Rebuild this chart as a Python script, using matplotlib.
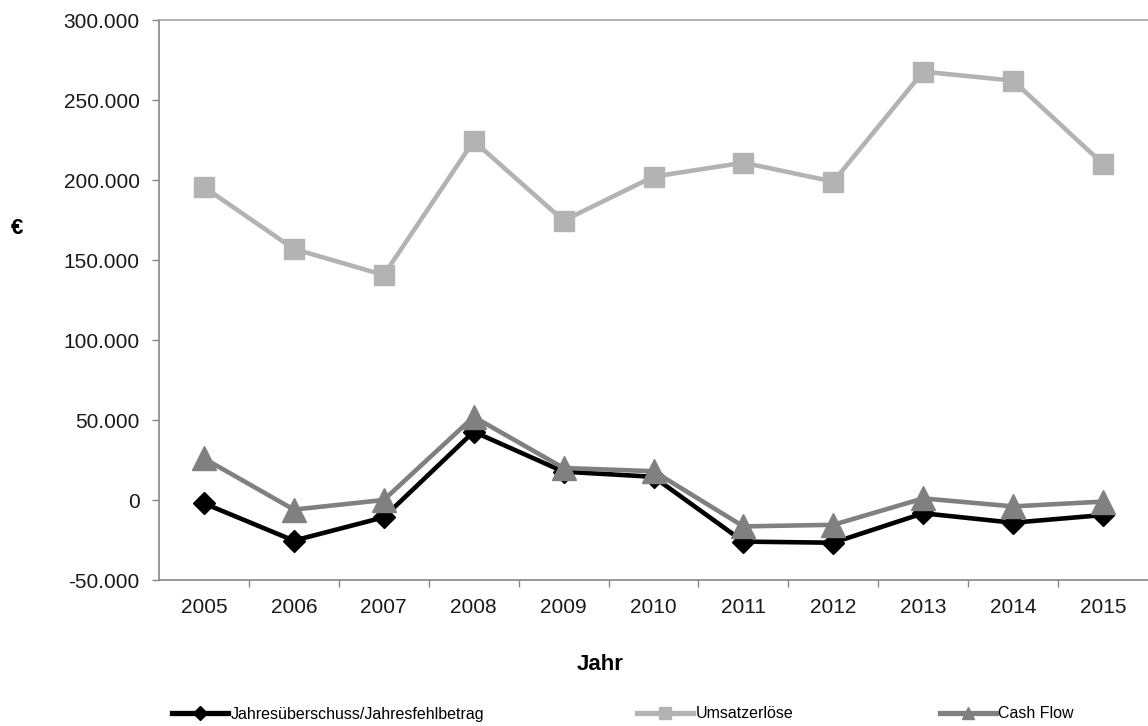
import matplotlib
matplotlib.use("Agg")
import matplotlib.pyplot as plt
from matplotlib.ticker import FixedLocator, FuncFormatter
from matplotlib.lines import Line2D

plt.rcParams['font.family'] = ['Liberation Sans', 'DejaVu Sans']

years = ['2005', '2006', '2007', '2008', '2009', '2010', '2011', '2012', '2013', '2014', '2015']
jahresergebnis = [-2100, -25400, -10800, 42700, 17700, 14500, -26000, -26700, -8300, -14200, -9400]
umsatzerloese = [195600, 156900, 140600, 224400, 174600, 202100, 210800, 199000, 267700, 262100, 210000]
cash_flow = [26000, -6000, 0, 52000, 20000, 18000, -16500, -15500, 1000, -4000, -1000]

series_labels = ['Jahresüberschuss/Jahresfehlbetrag', 'Umsatzerlöse', 'Cash Flow']
y_ticks = [-50000, 0, 50000, 100000, 150000, 200000, 250000, 300000]

fig = plt.figure(figsize=(11.48, 7.26), dpi=100)
ax = fig.add_axes([159 / 1148, 1 - 580 / 726, 989 / 1148, 560 / 726])

x = list(range(len(years)))
ax.plot(x, umsatzerloese, color='#b3b3b3', lw=3.3, marker='s', ms=15, zorder=3)
ax.plot(x, jahresergebnis, color='#000000', lw=3.3, marker='D', ms=11, zorder=4)
ax.plot(x, cash_flow, color='#808080', lw=3.3, marker='^', ms=17, zorder=5)

ax.set_xlim(-0.5, len(years) - 0.5)
ax.set_ylim(-50000, 300000)

ax.yaxis.set_major_locator(FixedLocator(y_ticks))
ax.yaxis.set_major_formatter(FuncFormatter(lambda v, p: f"{int(v):,}".replace(',', '.')))
ax.set_xticks(x)
ax.set_xticklabels(years)
ax.set_xticks([i + 0.5 for i in x[:-1]], minor=True)
ax.tick_params(axis='x', which='major', length=0, pad=13, labelsize=15, labelcolor='#1a1a1a')
ax.tick_params(axis='x', which='minor', length=5, width=1, color='#868686', direction='out')
ax.tick_params(axis='y', length=5, width=1, color='#868686', direction='out', pad=9,
               labelsize=15, labelcolor='#1a1a1a')

ax.spines['right'].set_visible(False)
for s in ['left', 'bottom']:
    ax.spines[s].set_color('#868686')
    ax.spines[s].set_linewidth(1.2)
ax.spines['top'].set_color('#a6a6a6')
ax.spines['top'].set_linewidth(1.2)

fig.text(600 / 1148, 1 - 665 / 726, 'Jahr', ha='center', va='center', fontsize=16, fontweight='bold')
fig.text(17 / 1148, 1 - 228 / 726, '€', ha='center', va='center', fontsize=16, fontweight='bold')

legend_specs = [
    (series_labels[0], '#000000', 'D', 7, 172),
    (series_labels[1], '#b3b3b3', 's', 8, 637),
    (series_labels[2], '#808080', '^', 9, 940),
]
for label, color, marker, ms, xpos in legend_specs:
    h = Line2D([], [], color=color, lw=3.8, marker=marker, ms=ms)
    fig.legend([h], [label], loc='center left', bbox_to_anchor=(xpos / 1148, 1 - 714 / 726),
               frameon=False, prop={'size': 11.5},
               handlelength=3.5, handletextpad=0.15, borderaxespad=0, borderpad=0)

fig.savefig('out.png', dpi=100)
